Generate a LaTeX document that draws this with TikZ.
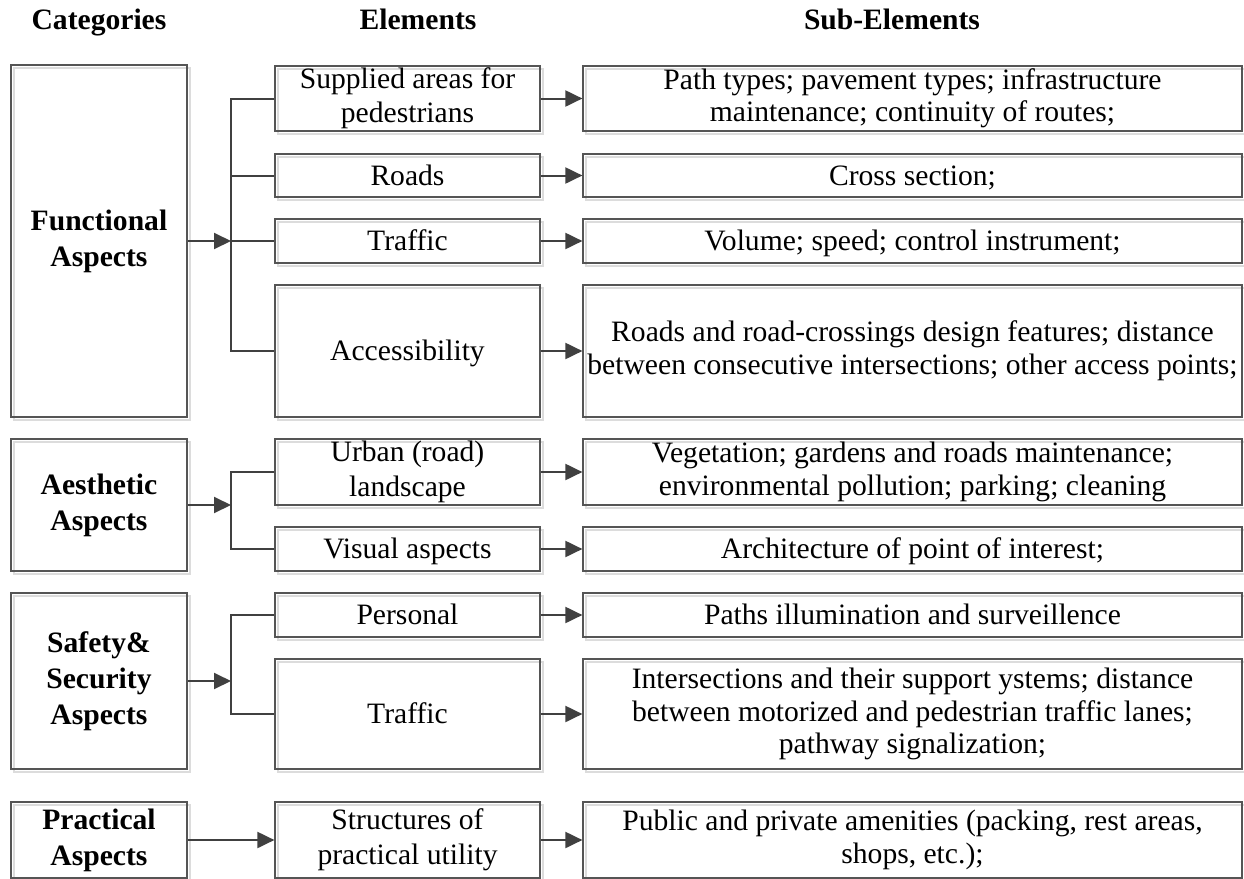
\documentclass[tikz,border=0pt]{standalone}
\usepackage{fontspec}
\setmainfont{Liberation Serif}
\usetikzlibrary{arrows.meta}
\definecolor{lineC}{HTML}{404040}
\definecolor{boxC}{HTML}{555555}
\definecolor{shC}{HTML}{DCDCDC}
\newcommand\mystrut{\rule[-0.22em]{0pt}{1.1em}}
\tikzset{
  boxst/.style={draw=boxC, line width=0.6pt,
    preaction={draw=shC, line width=0.8pt, transform canvas={xshift=1.5pt,yshift=-1.5pt}}},
  strutted/.style={align=center, inner sep=0pt,
    execute at begin node=\mystrut, execute at end node=\mystrut},
  cattext/.style={strutted, font=\fontsize{14.8}{18}\selectfont\bfseries},
  eltext/.style={strutted, font=\fontsize{14.8}{17.3}\selectfont},
  subtext/.style={strutted, font=\fontsize{14.8}{16.3}\selectfont},
  header/.style={font=\fontsize{14.8}{17}\selectfont\bfseries, inner sep=0pt, anchor=base},
  conn/.style={draw=lineC, line width=1pt},
  arr/.style={conn, -{Triangle[length=8.5pt,width=8pt]}}
}
% #1 name, #2 text style, #3 x1, #4 y1, #5 x2, #6 y2, #7 text
\newcommand\mybox[7]{%
  \node[#2, boxst, minimum width={(#5-#3)*0.5pt}, minimum height={(#6-#4)*0.5pt}]
        (#1) at ({(#3+#5)/2},{(#4+#6)/2}) {#7};
}
\begin{document}
\begin{tikzpicture}[x=0.5pt, y=-0.5pt]
\useasboundingbox (0,0) rectangle (1244,879);

% headers
\node[header] (hC) at (99,29) {Categories};
\node[header] (hE) at (418,29) {Elements};
\node[header] (hS) at (892,29) {Sub-Elements};

% Functional
\mybox{F}{cattext}{11}{65}{187}{417}{Functional\\Aspects}
\mybox{E1}{eltext}{275}{66}{540}{131}{Supplied areas for\\pedestrians}
\mybox{E2}{eltext}{275}{154}{540}{197}{Roads}
\mybox{E3}{eltext}{275}{219}{540}{263}{Traffic}
\mybox{E4}{eltext}{275}{285}{540}{417}{Accessibility}
\mybox{S1}{subtext}{583}{66}{1242}{131}{Path types; pavement types; infrastructure\\maintenance; continuity of routes;}
\mybox{S2}{subtext}{583}{154}{1242}{197}{Cross section;}
\mybox{S3}{subtext}{583}{219}{1242}{263}{Volume; speed; control instrument;}
\mybox{S4}{subtext}{583}{285}{1242}{417}{Roads and road-crossings design features; distance\\between consecutive intersections; other access points;}

% Aesthetic
\mybox{A}{cattext}{11}{439}{187}{571}{Aesthetic\\Aspects}
\mybox{E5}{eltext}{275}{439}{540}{505}{Urban (road)\\landscape}
\mybox{E6}{eltext}{275}{527}{540}{571}{Visual aspects}
\mybox{S5}{subtext}{583}{439}{1242}{505}{Vegetation; gardens and roads maintenance;\\environmental pollution; parking; cleaning}
\mybox{S6}{subtext}{583}{527}{1242}{571}{Architecture of point of interest;}

% Safety
\mybox{SS}{cattext}{11}{593}{187}{769}{Safety\&\\Security\\Aspects}
\mybox{E7}{eltext}{275}{593}{540}{637}{Personal}
\mybox{E8}{eltext}{275}{659}{540}{769}{Traffic}
\mybox{S7}{subtext}{583}{593}{1242}{637}{Paths illumination and surveillence}
\mybox{S8}{subtext}{583}{659}{1242}{769}{Intersections and their support ystems; distance\\between motorized and pedestrian traffic lanes;\\pathway signalization;}

% Practical
\mybox{P}{cattext}{11}{802}{187}{878}{Practical\\Aspects}
\mybox{E9}{eltext}{275}{802}{540}{878}{Structures of\\practical utility}
\mybox{S9}{subtext}{583}{802}{1242}{878}{Public and private amenities (packing, rest areas,\\shops, etc.);}

% junction coordinates
\coordinate (jF) at (231,241);
\coordinate (jA) at (231,505);
\coordinate (jS) at (231,681);

% Functional connectors
\draw[arr] (F.east |- jF) -- (jF);
\draw[conn] (E1.west) -- (jF |- E1.west) -- (jF |- E4.west) -- (E4.west);
\draw[conn] (jF |- E2.west) -- (E2.west);
\draw[conn] (jF |- E3.west) -- (E3.west);

% Aesthetic connectors
\draw[arr] (A.east |- jA) -- (jA);
\draw[conn] (E5.west) -- (jA |- E5.west) -- (jA |- E6.west) -- (E6.west);

% Safety connectors
\draw[arr] (SS.east |- jS) -- (jS);
\draw[conn] (E7.west) -- (jS |- E7.west) -- (jS |- E8.west) -- (E8.west);

% Practical
\draw[arr] (P.east) -- (E9.west);

% element to sub-element arrows
\foreach \i in {1,...,9}{
  \draw[arr] (E\i.east) -- (S\i.west);
}
\end{tikzpicture}
\end{document}
